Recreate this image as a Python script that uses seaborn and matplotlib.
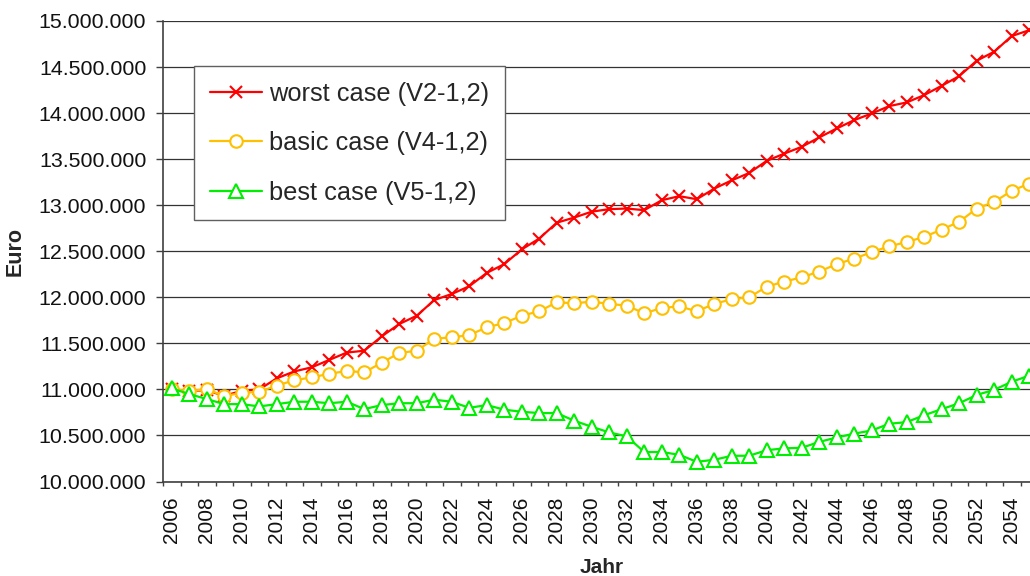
import numpy as np
import pandas as pd
import matplotlib
matplotlib.use("Agg")
import matplotlib.pyplot as plt
import seaborn as sns
from matplotlib.ticker import FuncFormatter, FixedLocator

years = list(range(2006, 2056))

worst_case = [
    11000000, 10985000, 10990000, 10930000, 10985000, 11000000, 11120000, 11195000, 11240000, 11320000,
    11400000, 11420000, 11576000, 11710000, 11800000, 11970000, 12036000, 12120000, 12265000, 12360000,
    12520000, 12638000, 12810000, 12866000, 12930000, 12957000, 12964000, 12946000, 13054000, 13098000,
    13065000, 13180000, 13270000, 13350000, 13482000, 13560000, 13634000, 13736000, 13833000, 13924000,
    13996000, 14076000, 14116000, 14196000, 14297000, 14402000, 14569000, 14667000, 14837000, 14900000,
]
basic_case = [
    11000000, 10985000, 11000000, 10930000, 10960000, 10975000, 11040000, 11100000, 11130000, 11170000,
    11200000, 11185000, 11290000, 11395000, 11420000, 11550000, 11565000, 11590000, 11674000, 11720000,
    11800000, 11848000, 11946000, 11935000, 11953000, 11928000, 11910000, 11826000, 11884000, 11902000,
    11848000, 11928000, 11980000, 12000000, 12116000, 12170000, 12217000, 12280000, 12360000, 12420000,
    12490000, 12554000, 12600000, 12656000, 12736000, 12820000, 12964000, 13036000, 13156000, 13235000,
]
best_case = [
    11010000, 10950000, 10895000, 10840000, 10840000, 10815000, 10840000, 10866000, 10866000, 10850000,
    10866000, 10786000, 10830000, 10850000, 10850000, 10888000, 10866000, 10800000, 10830000, 10780000,
    10757000, 10743000, 10743000, 10660000, 10594000, 10533000, 10490000, 10320000, 10320000, 10290000,
    10214000, 10236000, 10279000, 10280000, 10340000, 10360000, 10366000, 10430000, 10478000, 10520000,
    10554000, 10627000, 10645000, 10720000, 10786000, 10850000, 10940000, 10996000, 11083000, 11150000,
]
series_labels = ["worst case (V2-1,2)", "basic case (V4-1,2)", "best case (V5-1,2)"]
y_ticks = [10000000, 10500000, 11000000, 11500000, 12000000, 12500000,
           13000000, 13500000, 14000000, 14500000, 15000000]
x_label_years = years[::2]

sns.set_style("white")
plt.rcParams["font.family"] = ["Liberation Sans", "DejaVu Sans"]

fig = plt.figure(figsize=(10.3, 5.76), dpi=100)
ax = fig.add_axes([163 / 1030, (576 - 481.5) / 576, 875 / 1030, 460.5 / 576])

styles = [
    dict(color="#FF0000", marker="x", markersize=9, markeredgewidth=1.5,
         markeredgecolor="#FF0000", markerfacecolor="#FF0000"),
    dict(color="#FFC000", marker="o", markersize=9, markeredgewidth=1.5,
         markeredgecolor="#FFC000", markerfacecolor="white"),
    dict(color="#00EE00", marker="^", markersize=9.5, markeredgewidth=1.5,
         markeredgecolor="#00EE00", markerfacecolor="white"),
]
for vals, lab, st in zip([worst_case, basic_case, best_case], series_labels, styles):
    df = pd.DataFrame({"Jahr": years, "Euro": vals})
    sns.lineplot(data=df, x="Jahr", y="Euro", ax=ax, linewidth=1.6, label=lab,
                 legend=False, **st)

ax.set_xlim(2005.5, 2055.5)
ax.set_ylim(10000000, 15000000)

ax.yaxis.set_major_locator(FixedLocator(y_ticks))
ax.yaxis.set_major_formatter(FuncFormatter(lambda v, p: f"{int(round(v)):,}".replace(",", ".")))
ax.tick_params(axis="y", which="major", direction="out", length=5, width=1,
               color="#404040", pad=7, labelsize=15.4, left=True, colors="#404040",
               labelcolor="#111111")

ax.xaxis.set_major_locator(FixedLocator(np.arange(2005.5, 2056.0, 1.0)))
ax.xaxis.set_major_formatter(FuncFormatter(lambda v, p: ""))
ax.xaxis.set_minor_locator(FixedLocator(x_label_years))
ax.xaxis.set_minor_formatter(FuncFormatter(lambda v, p: str(int(round(v)))))
ax.tick_params(axis="x", which="major", direction="out", length=3, width=1,
               color="#404040", bottom=True)
ax.tick_params(axis="x", which="minor", length=0, pad=11, labelsize=15,
               labelrotation=90, bottom=True, labelcolor="#111111")

ax.grid(axis="y", color="#333333", linewidth=0.9)
ax.grid(axis="x", visible=False)
ax.set_axisbelow(True)
for s in ["top", "right"]:
    ax.spines[s].set_visible(False)
for s in ["left", "bottom"]:
    ax.spines[s].set_visible(True)
    ax.spines[s].set_color("#404040")
    ax.spines[s].set_linewidth(1.2)

ax.set_xlabel("Jahr", fontsize=15, fontweight="bold")
ax.set_ylabel("Euro", fontsize=15.5, fontweight="bold")
ax.xaxis.set_label_coords((602 - 163) / 875, (481.5 - 558) / 460.5)
ax.yaxis.set_label_coords((26 - 163) / 875, 0.5)

leg = ax.legend(loc="upper left", bbox_to_anchor=((194 - 163) / 875, (481.5 - 66) / 460.5),
                borderaxespad=0, fontsize=18.3, frameon=True, fancybox=False,
                framealpha=1, edgecolor="#606060", handlelength=2.05,
                handletextpad=0.28, labelspacing=1.0, borderpad=0.62)
leg.get_frame().set_linewidth(1.0)

fig.savefig("out.png", dpi=100)
